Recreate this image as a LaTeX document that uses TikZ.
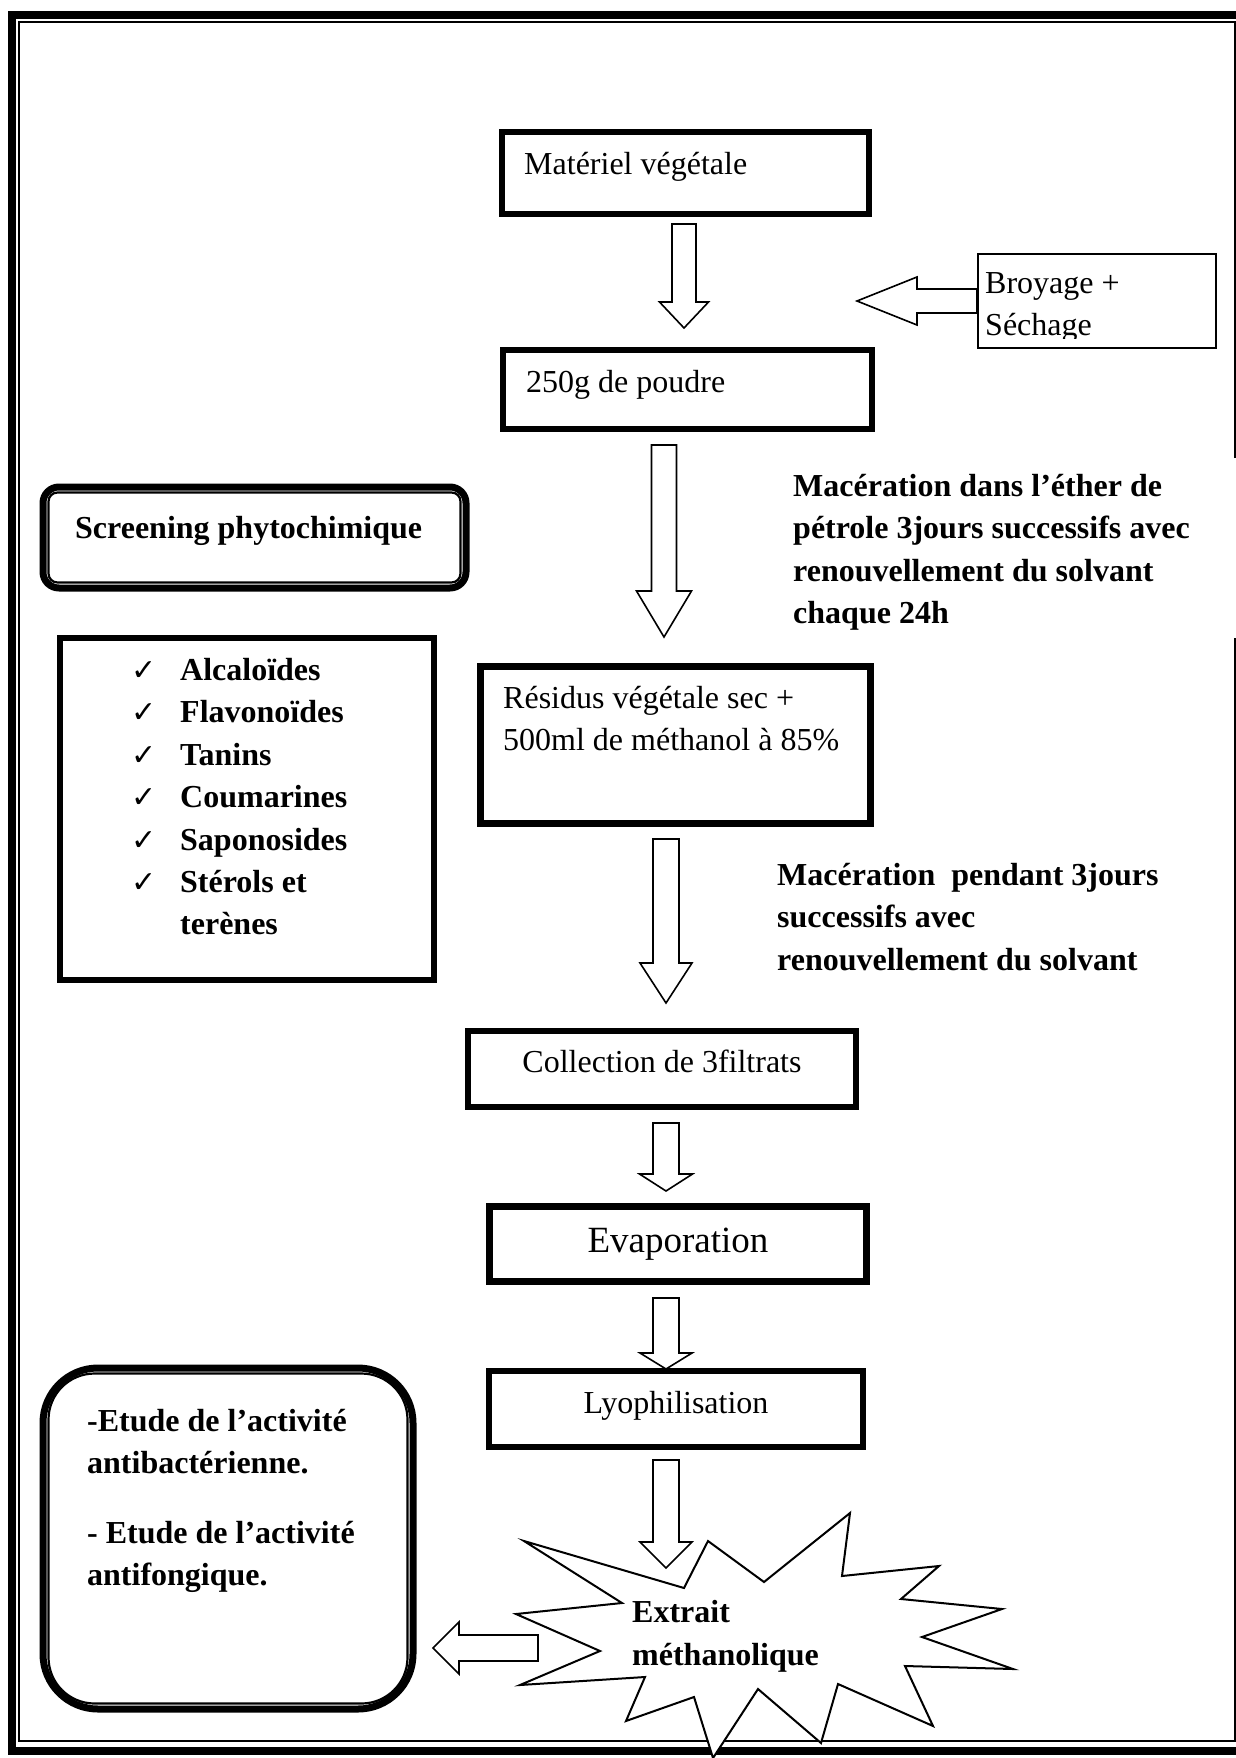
\documentclass[tikz,border=0pt]{standalone}
\usepackage{fontspec}
\setmainfont{Liberation Serif}
\newfontfamily\checkfont{DejaVu Sans}
\usetikzlibrary{calc}
\newcommand\normtxt{\fontsize{32}{42.5}\selectfont}
\newcommand\boldtxt{\fontsize{32}{42.5}\selectfont\bfseries}
\newcommand\bigtxt{\fontsize{37}{44}\selectfont}
\newcommand\hollowdown[5]{%
  \draw[hollow] let \p1=(#1), \p2=(#2) in
    (\x1-#3pt,\y1) -- (\x1+#3pt,\y1) -- (\x1+#3pt,\y2+#5pt) -- (\x1+#4pt,\y2+#5pt)
    -- (\x2,\y2) -- (\x1-#4pt,\y2+#5pt) -- (\x1-#3pt,\y2+#5pt) -- cycle;}
\newcommand\hollowleft[5]{%
  \draw[hollow] let \p1=(#1), \p2=(#2) in
    (\x1,\y1+#3pt) -- (\x2+#5pt,\y1+#3pt) -- (\x2+#5pt,\y1+#4pt) -- (\x2,\y2)
    -- (\x2+#5pt,\y1-#4pt) -- (\x2+#5pt,\y1-#3pt) -- (\x1,\y1-#3pt) -- cycle;}
\begin{document}
\begin{tikzpicture}[x=1pt,y=-1pt,
  box/.style={draw, rectangle, line width=6pt, inner sep=0pt},
  thinbox/.style={draw, rectangle, line width=2pt, inner sep=0pt},
  dblout/.style={draw, rectangle, line width=7pt, inner sep=0pt},
  dblin/.style={draw, line width=2.2pt},
  hollow/.style={draw, fill=white, line width=1.6pt, line join=miter},
  txt/.style={inner sep=0pt, anchor=base west, font=\normtxt},
  btxt/.style={inner sep=0pt, anchor=base west, font=\boldtxt},
  ctxt/.style={inner sep=0pt, anchor=base, font=\normtxt},
  chk/.style={inner sep=0pt, anchor=base west, font=\checkfont\fontsize{30}{30}\selectfont}]
\useasboundingbox (0,0) rectangle (1236,1758);
\fill[white] (0,0) rectangle (1236,1758);
% page frame
\draw[line width=8pt] (11.5,15) rectangle (1252,1751);
\draw[line width=2pt] (1234.5,458) -- (1234.5,22.5) -- (19,22.5) -- (19,1741) -- (1234.5,1741) -- (1234.5,638);

% boxes
\node[box, minimum width=367pt, minimum height=82pt] (b1) at (685.5,173) {};
\node[box, minimum width=369pt, minimum height=79pt] (b2) at (687.5,389.5) {};
\node[thinbox, minimum width=238pt, minimum height=94pt] (bb) at (1097,301) {};
\node[box, line width=7pt, minimum width=390pt, minimum height=157pt] (b3) at (675.5,745) {};
\node[box, minimum width=388pt, minimum height=76pt] (b4) at (662,1069) {};
\node[box, line width=7pt, minimum width=377pt, minimum height=75pt] (b5) at (678,1244) {};
\node[box, minimum width=374pt, minimum height=76pt] (b6) at (676,1409) {};
\node[box, minimum width=374pt, minimum height=342pt] (lst) at (247,809) {};
\node[dblout, rounded corners=16pt, minimum width=423pt, minimum height=101pt] (scr) at (254.5,537.5) {};
\draw[dblin, rounded corners=9pt] ($(scr.north west)+(9,9)$) rectangle ($(scr.south east)+(-9,-9)$);
\node[dblout, rounded corners=55pt, minimum width=370pt, minimum height=341pt] (act) at (228,1538.5) {};
\draw[dblin, rounded corners=46pt] ($(act.north west)+(9,9)$) rectangle ($(act.south east)+(-9,-9)$);

% starburst
\draw[line width=2pt, fill=white, line join=miter] (524,1541) -- (684,1588) -- (708,1541) -- (764,1582)
  -- (850,1513) -- (842,1576) -- (939,1566) -- (901,1599) -- (1002,1609) -- (922,1637)
  -- (1013,1669) -- (905,1666) -- (933,1726) -- (838,1684) -- (821,1743) -- (758,1689)
  -- (713,1758) -- (694,1697) -- (626,1721) -- (645,1677) -- (520,1685) -- (600,1651)
  -- (516,1614) -- (622,1603) -- cycle;

% hollow arrows
\coordinate (a1s) at (684,224);  \coordinate (a1e) at (684,328);
\coordinate (abe) at (857,301);
\coordinate (a2s) at (664,445);  \coordinate (a2e) at (664,637);
\coordinate (a3s) at (666,839);  \coordinate (a3e) at (666,1003);
\coordinate (a4s) at (666,1123); \coordinate (a4e) at (666,1191);
\coordinate (a5s) at (666,1298); \coordinate (a5e) at (666,1369);
\coordinate (a6s) at (666,1460); \coordinate (a6e) at (666,1568);
\coordinate (als) at (538,1648); \coordinate (ale) at (433,1648);
\hollowdown{a1s}{a1e}{12}{24.5}{26}
\hollowleft{bb.west}{abe}{12}{24}{60}
\hollowdown{a2s}{a2e}{12.5}{27.5}{46}
\hollowdown{a3s}{a3e}{13}{26}{40}
\hollowdown{a4s}{a4e}{13}{26.5}{17}
\hollowdown{a5s}{a5e}{13}{26}{16}
\hollowdown{a6s}{a6e}{13}{26}{26}
\hollowleft{als}{ale}{13}{26}{26}

% texts
\node[txt] (t1) at (524,174) {Matériel végétale};
\node[txt] (t2) at (526,392) {250g de poudre};
\begin{scope}
  \clip (979,255) rectangle (1215,338);
  \node[txt] (tb1) at (985,293) {Broyage +};
  \node[txt] (tb2) at (985,335) {Séchage};
\end{scope}
\node[btxt] (m1a) at (793,496) {Macération dans l’éther de};
\node[btxt] (m1b) at (793,538.5) {pétrole 3jours successifs avec};
\node[btxt] (m1c) at (793,581) {renouvellement du solvant};
\node[btxt] (m1d) at (793,623.5) {chaque 24h};
\node[btxt] (scrt) at (75,538) {Screening phytochimique};
\node[txt] (t3a) at (503,708) {Résidus végétale sec +};
\node[txt] (t3b) at (503,750) {500ml de méthanol à 85\%};
\node[btxt] (m2a) at (777,885) {Macération\ \ pendant 3jours};
\node[btxt] (m2b) at (777,927.5) {successifs avec};
\node[btxt] (m2c) at (777,970) {renouvellement du solvant};
\node[ctxt] (t4) at (662,1072) {Collection de 3filtrats};
\node[ctxt, font=\bigtxt] (t5) at (678,1252) {Evaporation};
\node[ctxt] (t6) at (676,1413) {Lyophilisation};
\node[btxt] (ex1) at (632,1622) {Extrait};
\node[btxt] (ex2) at (632,1665) {méthanolique};
% list
\node[chk] (c1) at (131,680) {✓}; \node[btxt] (l1) at (180,680) {Alcaloïdes};
\node[chk] (c2) at (131,722) {✓}; \node[btxt] (l2) at (180,722) {Flavonoïdes};
\node[chk] (c3) at (131,765) {✓}; \node[btxt] (l3) at (180,765) {Tanins};
\node[chk] (c4) at (131,807) {✓}; \node[btxt] (l4) at (180,807) {Coumarines};
\node[chk] (c5) at (131,850) {✓}; \node[btxt] (l5) at (180,850) {Saponosides};
\node[chk] (c6) at (131,892) {✓}; \node[btxt] (l6) at (180,892) {Stérols et};
\node[btxt] (l7) at (180,934) {terènes};
% activity texts
\node[btxt] (e1) at (87,1431) {-Etude de l’activité};
\node[btxt] (e2) at (87,1473) {antibactérienne.};
\node[btxt] (e3) at (87,1543) {- Etude de l’activité};
\node[btxt] (e4) at (87,1585) {antifongique.};
\end{tikzpicture}
\end{document}
